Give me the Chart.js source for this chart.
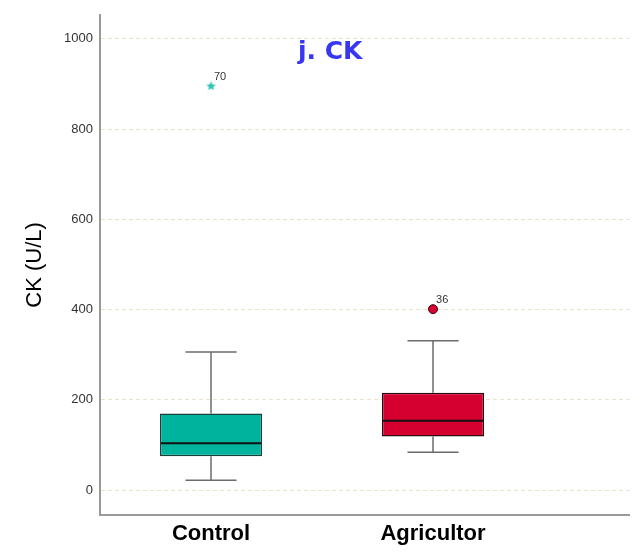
<!DOCTYPE html>
<html>
<head>
<meta charset="utf-8">
<script src="https://cdn.jsdelivr.net/npm/chart.js@4.4.1/dist/chart.umd.min.js"></script>
<style>
  html, body { margin: 0; padding: 0; background: #fff; }
  #wrap { width: 635px; height: 556px; }
</style>
</head>
<body>
<div id="wrap"><canvas id="chart"></canvas></div>
<script>
const categories = ['Control', 'Agricultor'];
const whiskerLow = [22, 84];
const q1 = [75, 119];
const median = [104, 154];
const q3 = [170, 216];
const whiskerHigh = [306, 331];
const outlierValues = [895, 401];
const outlierCase = ['70', '36'];
const yMin = -55, yMax = 1053, yStep = 200;

const boxColors = ['#00b39c', '#d5002f'];
const boxBorders = ['#17413a', '#2a0a10'];

// small filled star for the extreme outlier
function makeStar(color) {
  const c = document.createElement('canvas');
  c.width = 11; c.height = 11;
  const g = c.getContext('2d');
  g.fillStyle = color;
  g.beginPath();
  for (let i = 0; i < 10; i++) {
    const r = i % 2 === 0 ? 5 : 2.2;
    const a = -Math.PI / 2 + i * Math.PI / 5;
    g.lineTo(5.5 + r * Math.cos(a), 5.5 + r * Math.sin(a));
  }
  g.closePath();
  g.fill();
  return c;
}

const boxPlugin = {
  id: 'boxParts',
  beforeDatasetsDraw(chart) {
    const { ctx } = chart;
    const y = chart.scales.y;
    const bars = chart.getDatasetMeta(0).data;
    ctx.save();
    ctx.strokeStyle = '#6b6b6b';
    ctx.lineWidth = 1.5;
    bars.forEach((bar, i) => {
      const half = bar.width / 4;
      ctx.beginPath();
      ctx.moveTo(bar.x, y.getPixelForValue(q3[i]));
      ctx.lineTo(bar.x, y.getPixelForValue(whiskerHigh[i]));
      ctx.moveTo(bar.x - half, y.getPixelForValue(whiskerHigh[i]));
      ctx.lineTo(bar.x + half, y.getPixelForValue(whiskerHigh[i]));
      ctx.moveTo(bar.x, y.getPixelForValue(q1[i]));
      ctx.lineTo(bar.x, y.getPixelForValue(whiskerLow[i]));
      ctx.moveTo(bar.x - half, y.getPixelForValue(whiskerLow[i]));
      ctx.lineTo(bar.x + half, y.getPixelForValue(whiskerLow[i]));
      ctx.stroke();
    });
    ctx.restore();
  },
  afterDatasetsDraw(chart) {
    const { ctx } = chart;
    const y = chart.scales.y;
    const bars = chart.getDatasetMeta(0).data;
    ctx.save();
    ctx.strokeStyle = '#111';
    ctx.lineWidth = 2;
    bars.forEach((bar, i) => {
      const py = y.getPixelForValue(median[i]);
      ctx.beginPath();
      ctx.moveTo(bar.x - bar.width / 2 + 1, py);
      ctx.lineTo(bar.x + bar.width / 2 - 1, py);
      ctx.stroke();
    });
    // case numbers next to outliers
    ctx.fillStyle = '#333';
    ctx.font = '11px "Liberation Sans", Arial, sans-serif';
    ctx.textBaseline = 'alphabetic';
    chart.getDatasetMeta(1).data.forEach((pt, i) => {
      ctx.fillText(outlierCase[i], pt.x + 3, pt.y - 6);
    });
    // panel title
    const area = chart.chartArea;
    ctx.fillStyle = '#3737f2';
    ctx.font = 'bold 25px "DejaVu Sans", sans-serif';
    ctx.fillText('j. CK', area.left + 198, area.top + 44);
    ctx.restore();
  }
};

new Chart(document.getElementById('chart'), {
  type: 'bar',
  data: {
    datasets: [{
      data: categories.map((c, i) => ({ x: i + 1, y: [q1[i], q3[i]] })),
      backgroundColor: boxColors,
      borderColor: boxBorders,
      borderWidth: 1.5,
      borderSkipped: false,
      categoryPercentage: 1,
      barPercentage: 0.46
    }, {
      type: 'scatter',
      data: categories.map((c, i) => ({ x: i + 1, y: outlierValues[i] })),
      pointStyle: [makeStar('#2cc4b6'), 'circle'],
      pointRadius: [5, 4.5],
      backgroundColor: ['#2cc4b6', '#d5002f'],
      borderColor: ['#2cc4b6', '#3a0a12'],
      borderWidth: [0, 1]
    }]
  },
  options: {
    responsive: true,
    maintainAspectRatio: false,
    animation: false,
    layout: { padding: { top: 13, right: 3, left: 0, bottom: 0 } },
    plugins: { legend: { display: false }, tooltip: { enabled: false } },
    scales: {
      x: {
        type: 'linear',
        offset: false,
        min: 0.5,
        max: 2.885,
        afterBuildTicks(scale) {
          scale.ticks = categories.map((c, i) => ({ value: i + 1 }));
        },
        afterFit(scale) { scale.height = 41; },
        grid: { display: false, drawTicks: false },
        border: { color: '#9a9a9a', width: 2 },
        ticks: {
          padding: 6,
          color: '#000',
          font: { family: '"Liberation Sans", Arial, sans-serif', size: 22, weight: 'bold' },
          callback: (v) => categories[v - 1] || ''
        }
      },
      y: {
        min: yMin,
        max: yMax,
        afterFit(scale) { scale.width = 100; },
        grid: { color: '#e9e4c8', lineWidth: 1, drawTicks: false },
        border: { color: '#9a9a9a', width: 2, dash: [4, 3] },
        ticks: {
          stepSize: yStep,
          includeBounds: false,
          padding: 7,
          color: '#333',
          font: { family: '"Liberation Sans", Arial, sans-serif', size: 13 },
          callback: (v) => String(v)
        },
        title: {
          display: true,
          text: 'CK (U/L)',
          color: '#000',
          padding: { top: 22, bottom: 0 },
          font: { family: '"Liberation Sans", Arial, sans-serif', size: 22 }
        }
      }
    }
  },
  plugins: [boxPlugin]
});
</script>
</body>
</html>
